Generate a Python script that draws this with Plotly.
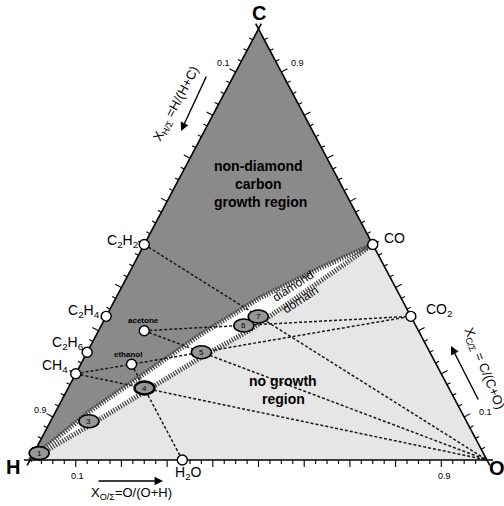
import plotly.graph_objects as go

# ---------------------------------------------------------------------------
# Data
# ---------------------------------------------------------------------------
# Source gases: atom counts (C, H, O)
species = ["C2H2", "C2H4", "C2H6", "CH4", "CO", "CO2", "H2O", "acetone", "ethanol"]
species_text = ["C<sub>2</sub>H<sub>2</sub>", "C<sub>2</sub>H<sub>4</sub>", "C<sub>2</sub>H<sub>6</sub>",
                "CH<sub>4</sub>", "CO", "CO<sub>2</sub>", "H<sub>2</sub>O", "acetone", "ethanol"]
n_C = [2, 2, 2, 1, 1, 1, 0, 3, 2]
n_H = [2, 4, 6, 4, 0, 0, 2, 6, 6]
n_O = [0, 0, 0, 0, 1, 2, 1, 1, 1]

# Gas-mixture tie lines (end members); "O2" is the O corner
tie_from = ["C2H2", "CH4", "acetone", "CH4", "acetone", "ethanol"]
tie_to = ["O2", "O2", "O2", "CO2", "CO2", "H2O"]

# Diamond growth experiments (atomic fractions)
exp_labels = ["1", "3", "4", "5", "6", "7"]
exp_C = [0.016, 0.090, 0.167, 0.250, 0.312, 0.333]
exp_O = [0.012, 0.084, 0.167, 0.250, 0.312, 0.333]

# Diamond-domain boundaries (atomic fractions), H corner -> CO
upper_C = [0.0, 0.111, 0.200, 0.290, 0.376, 0.445, 0.5]
upper_O = [0.0, 0.073, 0.150, 0.227, 0.315, 0.412, 0.5]
lower_C = [0.0, 0.079, 0.158, 0.237, 0.302, 0.5]
lower_O = [0.0, 0.089, 0.171, 0.254, 0.331, 0.5]

# ---------------------------------------------------------------------------
# Geometry helpers: H at (0,0), O at (1,0), C at (0.5,1)
# ---------------------------------------------------------------------------
SX, SY = 457.0, 431.0       # pixel length of unit x / unit y
X0, Y0 = 30.0, 460.0        # pixel position of the H corner
W, HGT = 504, 506
FONT = "Liberation Sans"


def xy(c, o):
    return o + 0.5 * c, c


def frac(name):
    if name == "O2":
        return 0.0, 0.0, 1.0
    i = species.index(name)
    t = n_C[i] + n_H[i] + n_O[i]
    return n_C[i] / t, n_H[i] / t, n_O[i] / t


def px(x, y):
    return X0 + SX * x, Y0 - SY * y


def dat(u, v):
    return (u - X0) / SX, (Y0 - v) / SY


fig = go.Figure()

# whole triangle: light "no growth" background
fig.add_trace(go.Scatter(x=[0, 1, 0.5, 0], y=[0, 0, 1, 0], mode="lines", fill="toself",
                         fillcolor="rgb(230,230,230)", line=dict(width=0),
                         hoverinfo="skip", showlegend=False))

up_x, up_y = zip(*[xy(c, o) for c, o in zip(upper_C, upper_O)])
lo_x, lo_y = zip(*[xy(c, o) for c, o in zip(lower_C, lower_O)])

# non-diamond carbon region: H -> C -> CO -> upper boundary back to H
dk_x = [0, 0.5] + list(up_x[::-1])
dk_y = [0, 1] + list(up_y[::-1])
fig.add_trace(go.Scatter(x=dk_x, y=dk_y, mode="lines", fill="toself",
                         fillcolor="rgb(138,138,138)", line=dict(width=0),
                         hoverinfo="skip", showlegend=False))

# diamond domain band
bd_x = list(lo_x) + list(up_x[::-1])
bd_y = list(lo_y) + list(up_y[::-1])
fig.add_trace(go.Scatter(x=bd_x, y=bd_y, mode="lines", fill="toself",
                         fillcolor="white", line=dict(width=0),
                         hoverinfo="skip", showlegend=False))

# hatched boundaries
for bx, by in ((up_x, up_y), (lo_x, lo_y)):
    fig.add_trace(go.Scatter(x=list(bx), y=list(by), mode="lines",
                             line=dict(color="rgb(60,60,60)", width=5, dash="1.2px,1.5px"),
                             hoverinfo="skip", showlegend=False))

# tie lines
for a, b in zip(tie_from, tie_to):
    ca, _, oa = frac(a)
    cb, _, ob = frac(b)
    xa, ya = xy(ca, oa)
    xb, yb = xy(cb, ob)
    fig.add_trace(go.Scatter(x=[xa, xb], y=[ya, yb], mode="lines",
                             line=dict(color="rgb(25,25,25)", width=1.5, dash="3px,2px"),
                             hoverinfo="skip", showlegend=False))

# triangle edges (slightly overshooting the corners)
verts = {"H": (0.0, 0.0), "O": (1.0, 0.0), "C": (0.5, 1.0)}
ext = 6.0
for p, q in (("H", "O"), ("O", "C"), ("C", "H")):
    pu, pv = px(*verts[p])
    qu, qv = px(*verts[q])
    L = ((qu - pu) ** 2 + (qv - pv) ** 2) ** 0.5
    du, dv = (qu - pu) / L, (qv - pv) / L
    a = dat(pu - du * ext, pv - dv * ext)
    b = dat(qu + du * ext, qv + dv * ext)
    fig.add_trace(go.Scatter(x=[a[0], b[0]], y=[a[1], b[1]], mode="lines",
                             line=dict(color="black", width=1.6),
                             hoverinfo="skip", showlegend=False))

# ticks: bottom t=O/(O+H) from H, left t=H/(H+C) from C, right t=C/(C+O) from O
cen = px(0.5, 1 / 3)
tick_x, tick_y = [], []
for p, q in (("H", "O"), ("C", "H"), ("O", "C")):
    pu, pv = px(*verts[p])
    qu, qv = px(*verts[q])
    L = ((qu - pu) ** 2 + (qv - pv) ** 2) ** 0.5
    nu, nv = -(qv - pv) / L, (qu - pu) / L
    mu, mv = (pu + qu) / 2, (pv + qv) / 2
    if (cen[0] - mu) * nu + (cen[1] - mv) * nv > 0:
        nu, nv = -nu, -nv
    for k in range(1, 40):
        t = k * 0.025
        u, v = pu + (qu - pu) * t, pv + (qv - pv) * t
        ln = 7.0 if k % 4 == 0 else 4.0
        a = dat(u, v)
        b = dat(u + nu * ln, v + nv * ln)
        tick_x += [a[0], b[0], None]
        tick_y += [a[1], b[1], None]
fig.add_trace(go.Scatter(x=tick_x, y=tick_y, mode="lines",
                         line=dict(color="black", width=1.1),
                         hoverinfo="skip", showlegend=False))

# source gases
sp_x, sp_y = [], []
for s in species:
    c, _, o = frac(s)
    u, v = xy(c, o)
    sp_x.append(u)
    sp_y.append(v)
fig.add_trace(go.Scatter(x=sp_x, y=sp_y, mode="markers",
                         marker=dict(size=10, color="white", line=dict(color="black", width=1.4)),
                         hoverinfo="skip", showlegend=False))

annotations = []
shapes = []

# experiment ellipses with numbers
for lab, c, o in zip(exp_labels, exp_C, exp_O):
    u, v = xy(c, o)
    shapes.append(dict(type="circle", xref="x", yref="y", xsizemode="pixel", ysizemode="pixel",
                       xanchor=u, yanchor=v, x0=-10, x1=10, y0=-6.5, y1=6.5,
                       fillcolor="rgb(150,150,150)",
                       line=dict(color="black", width=2.4 if lab == "4" else 1.6)))
    annotations.append(dict(x=u, y=v, text=lab, showarrow=False,
                            font=dict(size=8, color="black", family=FONT)))

# species labels (pixel offsets from the marker)
lab_off = {"C2H2": (-22, -4), "C2H4": (-22, -5), "C2H6": (-19, -9), "CH4": (-21, -8),
           "CO": (22, -7), "CO2": (28, -6), "H2O": (6, 13), "acetone": (-1, -10),
           "ethanol": (-4, -10)}
for s, t, u, v in zip(species, species_text, sp_x, sp_y):
    pu, pv = px(u, v)
    du, dv = lab_off[s]
    a = dat(pu + du, pv + dv)
    small = s in ("acetone", "ethanol")
    annotations.append(dict(x=a[0], y=a[1], text=f"<b>{t}</b>" if small else t, showarrow=False,
                            font=dict(size=8 if small else 14, color="black", family=FONT)))


def text_at(u, v, text, size, angle=0, bold=False, color="black"):
    a = dat(u, v)
    annotations.append(dict(x=a[0], y=a[1], text=f"<b>{text}</b>" if bold else text,
                            showarrow=False, textangle=angle,
                            font=dict(size=size, color=color, family=FONT)))


def arrow(u0, v0, u1, v1):
    a = dat(u0, v0)
    b = dat(u1, v1)
    annotations.append(dict(x=b[0], y=b[1], ax=a[0], ay=a[1], axref="x", ayref="y",
                            xref="x", yref="y", text="", showarrow=True, arrowhead=2,
                            arrowsize=1.2, arrowwidth=1.4, arrowcolor="black"))


# corner letters
text_at(259, 13, "C", 20, bold=True)
text_at(13, 467, "H", 20, bold=True)
text_at(497, 468, "O", 20, bold=True)

# tick labels
text_at(223, 63, "0.1", 9)
text_at(297, 63, "0.9", 9)
text_at(40, 410, "0.9", 9)
text_at(77, 476, "0.1", 9)
text_at(444, 476, "0.9", 9)
text_at(485, 412, "0.1", 9)

# axis titles and arrows
text_at(176, 104, "X<sub>H/Σ</sub> =H/(H+C)", 13, angle=-62)
arrow(207, 75, 181, 131)
text_at(131, 493, "X<sub>O/Σ</sub>=O/(O+H)", 13)
arrow(97, 481, 163, 481)
text_at(484, 368, "X<sub>C/Σ</sub> = C/(C+O)", 13, angle=68)
arrow(479, 401, 451, 346)

# region names
text_at(258, 166, "non-diamond", 14, bold=True)
text_at(258, 184, "carbon", 14, bold=True)
text_at(260, 202, "growth region", 14, bold=True)
text_at(283, 381, "no growth", 14, bold=True)
text_at(283, 399, "region", 14, bold=True)
text_at(293, 286, "diamond", 12, angle=-33)
text_at(300, 300, "domain", 12, angle=-33)

fig.update_layout(
    width=W, height=HGT, margin=dict(l=0, r=0, t=0, b=0),
    paper_bgcolor="white", plot_bgcolor="white",
    xaxis=dict(range=[-X0 / SX, (W - X0) / SX], visible=False, fixedrange=True),
    yaxis=dict(range=[-(HGT - Y0) / SY, Y0 / SY], visible=False, fixedrange=True),
    annotations=annotations, shapes=shapes, showlegend=False,
)

fig.write_html("out.html")
